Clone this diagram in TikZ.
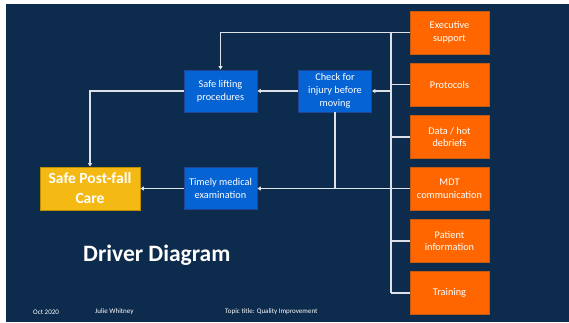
\documentclass[tikz,border=0pt]{standalone}
\usepackage{fontspec}
\setmainfont{Carlito}
\usetikzlibrary{arrows.meta}

\definecolor{slide}{RGB}{13,43,77}
\definecolor{driverfill}{RGB}{255,102,0}
\definecolor{driveredge}{RGB}{197,90,17}
\definecolor{midfill}{RGB}{5,99,212}
\definecolor{midedge}{RGB}{30,70,150}
\definecolor{goalfill}{RGB}{245,185,20}
\definecolor{goaledge}{RGB}{190,144,0}
\definecolor{wire}{RGB}{222,226,232}

\tikzset{
  box/.style={draw, line width=0.8pt, inner sep=0pt, align=center,
    text=white, font=\fontsize{10.3}{12.8}\selectfont},
  driverbox/.style={box, fill=driverfill, draw=driveredge,
    minimum width=79, minimum height=43},
  midbox/.style={box, fill=midfill, draw=midedge,
    minimum width=73, minimum height=42},
  goalbox/.style={box, fill=goalfill, draw=goaledge,
    minimum width=100, minimum height=43,
    font=\fontsize{15.5}{20}\selectfont\bfseries},
  link/.style={draw=wire, line width=1.2pt},
  arrowlink/.style={link, -{Triangle[length=3.5pt,width=4pt]}},
  footer/.style={text=white, font=\fontsize{7}{8}\selectfont, anchor=west, inner sep=0pt}
}

\begin{document}
\begin{tikzpicture}[x=1pt,y=-1pt]
  \useasboundingbox (0,0) rectangle (569,323);
  \fill[white] (0,0) rectangle (569,323);
  \fill[slide] (6,4) rectangle (569,322);

  % primary drivers (right column)
  \node[driverbox] (exec)  at (449.5,32.5) {Executive\\support};
  \node[driverbox] (prot)  at (449.5,84.5) {Protocols};
  \node[driverbox] (data)  at (449.5,137)  {Data / hot\\debriefs};
  \node[driverbox] (mdt)   at (449.5,188.5){MDT\\communication};
  \node[driverbox] (pat)   at (449.5,241)  {Patient\\information};
  \node[driverbox] (train) at (449.5,293)  {Training};

  % secondary drivers
  \node[midbox] (lift)   at (220.5,91)    {Safe lifting\\procedures};
  \node[midbox] (check)  at (335,91)      {Check for\\injury before\\moving};
  \node[midbox] (timely) at (220.5,188.5) {Timely medical\\examination};

  % aim
  \node[goalbox] (goal) at (90,188.5) {Safe Post-fall\\Care};

  % collecting bus
  \coordinate (busx) at (391,0);
  \path[link] (exec.west -| busx) -- (train.west -| busx);
  \foreach \b in {prot,data,pat,train}
    \path[link] (\b.west) -- (\b.west -| busx);

  % connectors
  \path[arrowlink] (exec.west) -| (lift.north);
  \path[arrowlink] (check.east -| busx) -- (check.east);
  \path[arrowlink] (check.west) -- (lift.east);
  \path[arrowlink] (lift.west) -| (goal.north);
  \path[arrowlink] (mdt.west) -- (timely.east);
  \path[link] (check.south) -- (check.south |- timely.east);
  \path[arrowlink] (timely.west) -- (goal.east);

  % title and footer
  \node[text=white, font=\fontsize{23.5}{28}\selectfont\bfseries, anchor=west, inner sep=0pt]
    (title) at (83,255) {Driver Diagram};
  \node[footer] (date)   at (33,312)  {Oct 2020};
  \node[footer] (author) at (95,312)  {Julie Whitney};
  \node[footer] (topic)  at (225,312) {Topic title: Quality Improvement};
\end{tikzpicture}
\end{document}
